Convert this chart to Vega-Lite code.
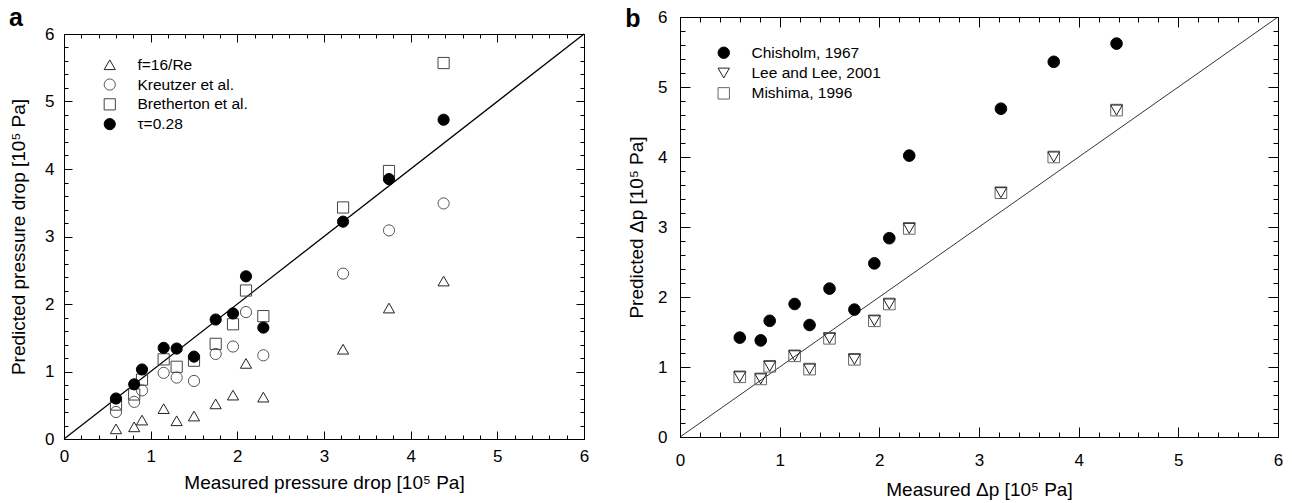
{
  "$schema": "https://vega.github.io/schema/vega-lite/v6.json",
  "padding": {"left": 8, "top": 6, "right": 5, "bottom": 5},
  "config": {
    "font": "Liberation Sans",
    "view": {"stroke": "black", "strokeWidth": 1},
    "axis": {"domainColor": "black", "tickColor": "black", "labelColor": "black", "titleColor": "black", "labelFontSize": 17, "titleFontSize": 19, "titleFontWeight": "normal", "tickWidth": 1, "domainWidth": 1, "grid": false, "labelFlush": false, "labelOverlap": false, "format": "d"}
  },
  "datasets": {
    "diag": [{"x": 0, "y": 0, "x2": 6, "y2": 6}],
    "labA": [{"lab": "a", "x": -0.635, "y": 0}],
    "labB": [{"lab": "b", "x": -0.55, "y": 5.857}],
    "a": [
      {"s": "f=16/Re", "x": 0.60, "y": 0.15}, {"s": "f=16/Re", "x": 0.81, "y": 0.18}, {"s": "f=16/Re", "x": 0.90, "y": 0.28}, {"s": "f=16/Re", "x": 1.15, "y": 0.45}, {"s": "f=16/Re", "x": 1.30, "y": 0.27}, {"s": "f=16/Re", "x": 1.50, "y": 0.34}, {"s": "f=16/Re", "x": 1.75, "y": 0.52}, {"s": "f=16/Re", "x": 1.95, "y": 0.65}, {"s": "f=16/Re", "x": 2.10, "y": 1.12}, {"s": "f=16/Re", "x": 2.30, "y": 0.62}, {"s": "f=16/Re", "x": 3.22, "y": 1.33}, {"s": "f=16/Re", "x": 3.75, "y": 1.94}, {"s": "f=16/Re", "x": 4.38, "y": 2.34},
      {"s": "Kreutzer et al.", "x": 0.60, "y": 0.40}, {"s": "Kreutzer et al.", "x": 0.81, "y": 0.55}, {"s": "Kreutzer et al.", "x": 0.90, "y": 0.72}, {"s": "Kreutzer et al.", "x": 1.15, "y": 0.98}, {"s": "Kreutzer et al.", "x": 1.30, "y": 0.91}, {"s": "Kreutzer et al.", "x": 1.50, "y": 0.86}, {"s": "Kreutzer et al.", "x": 1.75, "y": 1.26}, {"s": "Kreutzer et al.", "x": 1.95, "y": 1.37}, {"s": "Kreutzer et al.", "x": 2.10, "y": 1.88}, {"s": "Kreutzer et al.", "x": 2.30, "y": 1.24}, {"s": "Kreutzer et al.", "x": 3.22, "y": 2.45}, {"s": "Kreutzer et al.", "x": 3.75, "y": 3.09}, {"s": "Kreutzer et al.", "x": 4.38, "y": 3.49},
      {"s": "Bretherton et al.", "x": 0.60, "y": 0.51}, {"s": "Bretherton et al.", "x": 0.81, "y": 0.66}, {"s": "Bretherton et al.", "x": 0.90, "y": 0.88}, {"s": "Bretherton et al.", "x": 1.15, "y": 1.18}, {"s": "Bretherton et al.", "x": 1.30, "y": 1.07}, {"s": "Bretherton et al.", "x": 1.50, "y": 1.16}, {"s": "Bretherton et al.", "x": 1.75, "y": 1.41}, {"s": "Bretherton et al.", "x": 1.95, "y": 1.70}, {"s": "Bretherton et al.", "x": 2.10, "y": 2.20}, {"s": "Bretherton et al.", "x": 2.30, "y": 1.82}, {"s": "Bretherton et al.", "x": 3.22, "y": 3.43}, {"s": "Bretherton et al.", "x": 3.75, "y": 3.97}, {"s": "Bretherton et al.", "x": 4.38, "y": 5.57},
      {"s": "τ=0.28", "x": 0.60, "y": 0.60}, {"s": "τ=0.28", "x": 0.81, "y": 0.81}, {"s": "τ=0.28", "x": 0.90, "y": 1.03}, {"s": "τ=0.28", "x": 1.15, "y": 1.35}, {"s": "τ=0.28", "x": 1.30, "y": 1.34}, {"s": "τ=0.28", "x": 1.50, "y": 1.22}, {"s": "τ=0.28", "x": 1.75, "y": 1.77}, {"s": "τ=0.28", "x": 1.95, "y": 1.86}, {"s": "τ=0.28", "x": 2.10, "y": 2.41}, {"s": "τ=0.28", "x": 2.30, "y": 1.65}, {"s": "τ=0.28", "x": 3.22, "y": 3.22}, {"s": "τ=0.28", "x": 3.75, "y": 3.85}, {"s": "τ=0.28", "x": 4.38, "y": 4.73}
    ],
    "b": [
      {"s": "Mishima, 1996", "x": 0.60, "y": 0.86}, {"s": "Mishima, 1996", "x": 0.81, "y": 0.83}, {"s": "Mishima, 1996", "x": 0.90, "y": 1.01}, {"s": "Mishima, 1996", "x": 1.15, "y": 1.16}, {"s": "Mishima, 1996", "x": 1.30, "y": 0.97}, {"s": "Mishima, 1996", "x": 1.50, "y": 1.41}, {"s": "Mishima, 1996", "x": 1.75, "y": 1.11}, {"s": "Mishima, 1996", "x": 1.95, "y": 1.66}, {"s": "Mishima, 1996", "x": 2.10, "y": 1.90}, {"s": "Mishima, 1996", "x": 2.30, "y": 2.98}, {"s": "Mishima, 1996", "x": 3.22, "y": 3.49}, {"s": "Mishima, 1996", "x": 3.75, "y": 4.00}, {"s": "Mishima, 1996", "x": 4.38, "y": 4.67},
      {"s": "Lee and Lee, 2001", "x": 0.60, "y": 0.86}, {"s": "Lee and Lee, 2001", "x": 0.81, "y": 0.83}, {"s": "Lee and Lee, 2001", "x": 0.90, "y": 1.01}, {"s": "Lee and Lee, 2001", "x": 1.15, "y": 1.16}, {"s": "Lee and Lee, 2001", "x": 1.30, "y": 0.97}, {"s": "Lee and Lee, 2001", "x": 1.50, "y": 1.41}, {"s": "Lee and Lee, 2001", "x": 1.75, "y": 1.11}, {"s": "Lee and Lee, 2001", "x": 1.95, "y": 1.66}, {"s": "Lee and Lee, 2001", "x": 2.10, "y": 1.90}, {"s": "Lee and Lee, 2001", "x": 2.30, "y": 2.98}, {"s": "Lee and Lee, 2001", "x": 3.22, "y": 3.49}, {"s": "Lee and Lee, 2001", "x": 3.75, "y": 4.00}, {"s": "Lee and Lee, 2001", "x": 4.38, "y": 4.67},
      {"s": "Chisholm, 1967", "x": 0.60, "y": 1.42}, {"s": "Chisholm, 1967", "x": 0.81, "y": 1.38}, {"s": "Chisholm, 1967", "x": 0.90, "y": 1.66}, {"s": "Chisholm, 1967", "x": 1.15, "y": 1.90}, {"s": "Chisholm, 1967", "x": 1.30, "y": 1.60}, {"s": "Chisholm, 1967", "x": 1.50, "y": 2.12}, {"s": "Chisholm, 1967", "x": 1.75, "y": 1.82}, {"s": "Chisholm, 1967", "x": 1.95, "y": 2.48}, {"s": "Chisholm, 1967", "x": 2.10, "y": 2.84}, {"s": "Chisholm, 1967", "x": 2.30, "y": 4.02}, {"s": "Chisholm, 1967", "x": 3.22, "y": 4.69}, {"s": "Chisholm, 1967", "x": 3.75, "y": 5.36}, {"s": "Chisholm, 1967", "x": 4.38, "y": 5.62}
    ]
  },
  "hconcat": [
    {
      "vconcat": [
        {
          "width": 520, "height": 9,
          "view": {"stroke": null},
          "data": {"name": "labA"},
          "mark": {"type": "text", "fontSize": 25, "fontWeight": "bold", "align": "left", "baseline": "alphabetic", "color": "black"},
          "encoding": {
            "x": {"field": "x", "type": "quantitative", "scale": {"domain": [0, 6], "nice": false}, "axis": null},
            "y": {"field": "y", "type": "quantitative", "scale": {"domain": [0, 1], "nice": false}, "axis": null},
            "text": {"field": "lab"}
          }
        },
        {
          "width": 520, "height": 405,
          "layer": [
            {
              "data": {"name": "diag"},
              "mark": {"type": "rule", "color": "black", "strokeWidth": 1.3},
              "encoding": {
                "x": {"field": "x", "type": "quantitative", "scale": {"domain": [0, 6], "nice": false},
                  "axis": {"orient": "bottom", "title": "Measured pressure drop [10⁵ Pa]", "values": [0,0.2,0.4,0.6,0.8,1,1.2,1.4,1.6,1.8,2,2.2,2.4,2.6,2.8,3,3.2,3.4,3.6,3.8,4,4.2,4.4,4.6,4.8,5,5.2,5.4,5.6,5.8,6], "labelExpr": "datum.value % 1 == 0 ? datum.label : ''", "tickSize": {"condition": {"test": "datum.value % 1 == 0", "value": -8}, "value": -4}, "labelPadding": 17, "titlePadding": 5}},
                "y": {"field": "y", "type": "quantitative", "scale": {"domain": [0, 6], "nice": false},
                  "axis": {"orient": "left", "title": "Predicted pressure drop [10⁵ Pa]", "values": [0,0.2,0.4,0.6,0.8,1,1.2,1.4,1.6,1.8,2,2.2,2.4,2.6,2.8,3,3.2,3.4,3.6,3.8,4,4.2,4.4,4.6,4.8,5,5.2,5.4,5.6,5.8,6], "labelExpr": "datum.value % 1 == 0 ? datum.label : ''", "tickSize": {"condition": {"test": "datum.value % 1 == 0", "value": -8}, "value": -4}, "labelPadding": 18, "titlePadding": 16}},
                "x2": {"field": "x2"},
                "y2": {"field": "y2"}
              }
            },
            {
              "data": {"name": "a"},
              "mark": {"type": "point", "size": 125, "strokeWidth": 1, "opacity": 1},
              "encoding": {
                "x": {"field": "x", "type": "quantitative",
                  "axis": {"orient": "top", "title": null, "labels": false, "values": [0,0.2,0.4,0.6,0.8,1,1.2,1.4,1.6,1.8,2,2.2,2.4,2.6,2.8,3,3.2,3.4,3.6,3.8,4,4.2,4.4,4.6,4.8,5,5.2,5.4,5.6,5.8,6], "tickSize": {"condition": {"test": "datum.value % 1 == 0", "value": -8}, "value": -4}}},
                "y": {"field": "y", "type": "quantitative",
                  "axis": {"orient": "right", "title": null, "labels": false, "values": [0,0.2,0.4,0.6,0.8,1,1.2,1.4,1.6,1.8,2,2.2,2.4,2.6,2.8,3,3.2,3.4,3.6,3.8,4,4.2,4.4,4.6,4.8,5,5.2,5.4,5.6,5.8,6], "tickSize": {"condition": {"test": "datum.value % 1 == 0", "value": -8}, "value": -4}}},
                "shape": {"field": "s", "type": "nominal", "scale": {"domain": ["f=16/Re", "Kreutzer et al.", "Bretherton et al.", "τ=0.28"], "range": ["triangle-up", "circle", "square", "circle"]},
                  "legend": {"orient": "none", "legendX": 38, "legendY": 40, "title": null, "labelFontSize": 15.5, "labelColor": "black", "symbolSize": 125, "rowPadding": 2.8, "labelOffset": 20, "padding": 0, "symbolStrokeWidth": 1}},
                "fill": {"field": "s", "type": "nominal", "scale": {"domain": ["f=16/Re", "Kreutzer et al.", "Bretherton et al.", "τ=0.28"], "range": ["transparent", "transparent", "transparent", "black"]},
                  "legend": {"orient": "none", "legendX": 38, "legendY": 40, "title": null, "labelFontSize": 15.5, "labelColor": "black", "symbolSize": 125, "rowPadding": 2.8, "labelOffset": 20, "padding": 0, "symbolStrokeWidth": 1}},
                "stroke": {"field": "s", "type": "nominal", "scale": {"domain": ["f=16/Re", "Kreutzer et al.", "Bretherton et al.", "τ=0.28"], "range": ["#222222", "#555555", "#444444", "black"]},
                  "legend": {"orient": "none", "legendX": 38, "legendY": 40, "title": null, "labelFontSize": 15.5, "labelColor": "black", "symbolSize": 125, "rowPadding": 2.8, "labelOffset": 20, "padding": 0, "symbolStrokeWidth": 1}}
              }
            }
          ],
          "resolve": {"axis": {"x": "independent", "y": "independent"}}
        }
      ],
      "spacing": -7,
      "resolve": {"scale": {"x": "independent", "y": "independent"}}
    },
    {
      "width": 598, "height": 420,
      "layer": [
        {
          "data": {"name": "diag"},
          "mark": {"type": "rule", "color": "black", "strokeWidth": 0.8},
          "encoding": {
            "x": {"field": "x", "type": "quantitative", "scale": {"domain": [0, 6], "nice": false},
              "axis": {"orient": "bottom", "title": "Measured Δp [10⁵ Pa]", "values": [0,0.2,0.4,0.6,0.8,1,1.2,1.4,1.6,1.8,2,2.2,2.4,2.6,2.8,3,3.2,3.4,3.6,3.8,4,4.2,4.4,4.6,4.8,5,5.2,5.4,5.6,5.8,6], "labelExpr": "datum.value % 1 == 0 ? datum.label : ''", "tickSize": {"condition": {"test": "datum.value % 1 == 0", "value": -10}, "value": -5}, "labelPadding": 25, "titlePadding": 7}},
            "y": {"field": "y", "type": "quantitative", "scale": {"domain": [0, 6], "nice": false},
              "axis": {"orient": "left", "title": "Predicted Δp [10⁵ Pa]", "values": [0,0.2,0.4,0.6,0.8,1,1.2,1.4,1.6,1.8,2,2.2,2.4,2.6,2.8,3,3.2,3.4,3.6,3.8,4,4.2,4.4,4.6,4.8,5,5.2,5.4,5.6,5.8,6], "labelExpr": "datum.value % 1 == 0 ? datum.label : ''", "tickSize": {"condition": {"test": "datum.value % 1 == 0", "value": -10}, "value": -5}, "labelPadding": 23, "titlePadding": 11.5}},
            "x2": {"field": "x2"},
            "y2": {"field": "y2"}
          }
        },
        {
          "data": {"name": "b"},
          "mark": {"type": "point", "size": 135, "strokeWidth": 1, "opacity": 1},
          "encoding": {
            "x": {"field": "x", "type": "quantitative",
              "axis": {"orient": "top", "title": null, "labels": false, "values": [0,0.2,0.4,0.6,0.8,1,1.2,1.4,1.6,1.8,2,2.2,2.4,2.6,2.8,3,3.2,3.4,3.6,3.8,4,4.2,4.4,4.6,4.8,5,5.2,5.4,5.6,5.8,6], "tickSize": {"condition": {"test": "datum.value % 1 == 0", "value": -10}, "value": -5}}},
            "y": {"field": "y", "type": "quantitative",
              "axis": {"orient": "right", "title": null, "labels": false, "values": [0,0.2,0.4,0.6,0.8,1,1.2,1.4,1.6,1.8,2,2.2,2.4,2.6,2.8,3,3.2,3.4,3.6,3.8,4,4.2,4.4,4.6,4.8,5,5.2,5.4,5.6,5.8,6], "tickSize": {"condition": {"test": "datum.value % 1 == 0", "value": -10}, "value": -5}}},
            "shape": {"field": "s", "type": "nominal", "scale": {"domain": ["Chisholm, 1967", "Lee and Lee, 2001", "Mishima, 1996"], "range": ["circle", "triangle-down", "square"]},
              "legend": {"orient": "none", "legendX": 36, "legendY": 28, "title": null, "labelFontSize": 15.5, "labelColor": "black", "symbolSize": 130, "rowPadding": 3.3, "labelOffset": 20, "padding": 0, "symbolStrokeWidth": 1}},
            "fill": {"field": "s", "type": "nominal", "scale": {"domain": ["Chisholm, 1967", "Lee and Lee, 2001", "Mishima, 1996"], "range": ["black", "transparent", "transparent"]},
              "legend": {"orient": "none", "legendX": 36, "legendY": 28, "title": null, "labelFontSize": 15.5, "labelColor": "black", "symbolSize": 130, "rowPadding": 3.3, "labelOffset": 20, "padding": 0, "symbolStrokeWidth": 1}},
            "stroke": {"field": "s", "type": "nominal", "scale": {"domain": ["Chisholm, 1967", "Lee and Lee, 2001", "Mishima, 1996"], "range": ["black", "#222222", "#666666"]},
              "legend": {"orient": "none", "legendX": 36, "legendY": 28, "title": null, "labelFontSize": 15.5, "labelColor": "black", "symbolSize": 130, "rowPadding": 3.3, "labelOffset": 20, "padding": 0, "symbolStrokeWidth": 1}}
          }
        },
        {
          "data": {"name": "labB"},
          "mark": {"type": "text", "fontSize": 25, "fontWeight": "bold", "align": "left", "baseline": "alphabetic", "color": "black"},
          "encoding": {
            "x": {"field": "x", "type": "quantitative", "axis": null},
            "y": {"field": "y", "type": "quantitative", "axis": null},
            "text": {"field": "lab"}
          }
        }
      ],
      "resolve": {"axis": {"x": "independent", "y": "independent"}}
    }
  ],
  "spacing": 34,
  "resolve": {
    "scale": {"x": "independent", "y": "independent", "shape": "independent", "fill": "independent", "stroke": "independent"},
    "legend": {"shape": "independent", "fill": "independent", "stroke": "independent"}
  }
}
